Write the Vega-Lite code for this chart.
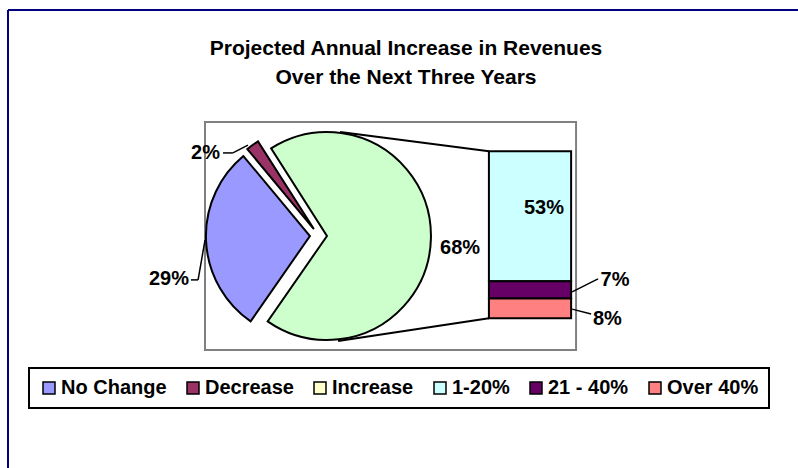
{
  "$schema": "https://vega.github.io/schema/vega-lite/v6.json",
  "width": 790,
  "height": 458,
  "autosize": {"type": "none"},
  "padding": {"left": 8, "top": 10, "right": 0, "bottom": 0},
  "background": "white",
  "title": {
    "text": ["Projected Annual Increase in Revenues", "Over the Next Three Years"],
    "anchor": "middle",
    "frame": "group",
    "orient": "top",
    "offset": -79,
    "baseline": "top",
    "dx": 3,
    "font": "Liberation Sans",
    "fontSize": 21,
    "fontWeight": "bold",
    "lineHeight": 29,
    "color": "black"
  },
  "datasets": {
    "pie": [
      {"category": "Increase", "pct": 68, "order": 1},
      {"category": "No Change", "pct": 29, "order": 2},
      {"category": "Decrease", "pct": 2, "order": 3}
    ],
    "bar": [
      {"category": "1-20%", "pct": 53},
      {"category": "21 - 40%", "pct": 7},
      {"category": "Over 40%", "pct": 8}
    ],
    "one": [{}]
  },
  "layer": [
    {
      "data": {"name": "one"},
      "mark": {"type": "rect", "filled": false, "stroke": "#808080", "strokeWidth": 2},
      "encoding": {
        "x": {"datum": 79.8, "type": "quantitative", "scale": {"domain": [0, 320], "nice": false, "zero": false}, "axis": null},
        "x2": {"datum": 230.1},
        "y": {"datum": 79.9, "type": "quantitative", "scale": {"domain": [-61, 125.5], "nice": false, "zero": false}, "axis": null},
        "y2": {"datum": -12.9}
      }
    },
    {
      "data": {"name": "one"},
      "mark": {"type": "rule", "color": "#000080", "strokeWidth": 2},
      "encoding": {
        "x": {"datum": 0, "type": "quantitative", "scale": {"domain": [0, 320], "nice": false, "zero": false}, "axis": null}
      }
    },
    {
      "data": {"name": "one"},
      "mark": {"type": "rule", "color": "#000080", "strokeWidth": 2},
      "encoding": {
        "y": {"datum": 125.5, "type": "quantitative", "scale": {"domain": [-61, 125.5], "nice": false, "zero": false}, "axis": null}
      }
    },
    {
      "data": {"name": "one"},
      "mark": {"type": "rule", "color": "black", "strokeWidth": 2},
      "encoding": {
        "x": {"datum": 134.5, "type": "quantitative", "scale": {"domain": [0, 320], "nice": false, "zero": false}, "axis": null},
        "x2": {"datum": 194.8},
        "y": {"datum": 75.8, "type": "quantitative", "scale": {"domain": [-61, 125.5], "nice": false, "zero": false}, "axis": null},
        "y2": {"datum": 68}
      }
    },
    {
      "data": {"name": "one"},
      "mark": {"type": "rule", "color": "black", "strokeWidth": 2},
      "encoding": {
        "x": {"datum": 133.7, "type": "quantitative", "scale": {"domain": [0, 320], "nice": false, "zero": false}, "axis": null},
        "x2": {"datum": 194.8},
        "y": {"datum": -9.3, "type": "quantitative", "scale": {"domain": [-61, 125.5], "nice": false, "zero": false}, "axis": null},
        "y2": {"datum": 0}
      }
    },
    {
      "data": {"name": "pie"},
      "transform": [
        {"stack": "pct", "groupby": [], "sort": [{"field": "order"}], "as": ["t0", "t1"]},
        {"filter": "datum.category === 'Increase'"}
      ],
      "mark": {"type": "arc", "outerRadius": 104, "fill": "#CCFFCC", "stroke": "black", "strokeWidth": 2},
      "encoding": {
        "theta": {"field": "t0", "type": "quantitative", "scale": {"domain": [0, 99], "range": [-0.5672, 5.716]}},
        "theta2": {"field": "t1"},
        "x": {"datum": 129.2, "type": "quantitative", "scale": {"domain": [0, 320], "nice": false, "zero": false}, "axis": null},
        "y": {"datum": 33.47, "type": "quantitative", "scale": {"domain": [-61, 125.5], "nice": false, "zero": false}, "axis": null}
      }
    },
    {
      "data": {"name": "pie"},
      "transform": [
        {"stack": "pct", "groupby": [], "sort": [{"field": "order"}], "as": ["t0", "t1"]},
        {"filter": "datum.category === 'No Change'"}
      ],
      "mark": {"type": "arc", "outerRadius": 104, "fill": "#9999FF", "stroke": "black", "strokeWidth": 2},
      "encoding": {
        "theta": {"field": "t0", "type": "quantitative", "scale": {"domain": [0, 99], "range": [-0.5672, 5.716]}},
        "theta2": {"field": "t1"},
        "x": {"datum": 122.3, "type": "quantitative", "scale": {"domain": [0, 320], "nice": false, "zero": false}, "axis": null},
        "y": {"datum": 33.47, "type": "quantitative", "scale": {"domain": [-61, 125.5], "nice": false, "zero": false}, "axis": null}
      }
    },
    {
      "data": {"name": "pie"},
      "transform": [
        {"stack": "pct", "groupby": [], "sort": [{"field": "order"}], "as": ["t0", "t1"]},
        {"filter": "datum.category === 'Decrease'"}
      ],
      "mark": {"type": "arc", "outerRadius": 104, "fill": "#993366", "stroke": "black", "strokeWidth": 2},
      "encoding": {
        "theta": {"field": "t0", "type": "quantitative", "scale": {"domain": [0, 99], "range": [-0.5672, 5.716]}},
        "theta2": {"field": "t1"},
        "x": {"datum": 123.9, "type": "quantitative", "scale": {"domain": [0, 320], "nice": false, "zero": false}, "axis": null},
        "y": {"datum": 36.3, "type": "quantitative", "scale": {"domain": [-61, 125.5], "nice": false, "zero": false}, "axis": null}
      }
    },
    {
      "data": {"name": "bar"},
      "transform": [
        {"stack": "pct", "groupby": [], "sort": [{"field": "category", "order": "descending"}], "as": ["b0", "b1"]}
      ],
      "mark": {"type": "bar", "stroke": "black", "strokeWidth": 2},
      "encoding": {
        "x": {"datum": 194.8, "type": "quantitative", "scale": {"domain": [0, 320], "nice": false, "zero": false}, "axis": null},
        "x2": {"datum": 228.1},
        "y": {"field": "b0", "type": "quantitative", "scale": {"domain": [-61, 125.5], "nice": false, "zero": false}, "axis": null},
        "y2": {"field": "b1"},
        "color": {
          "field": "category",
          "type": "nominal",
          "scale": {
            "domain": ["No Change", "Decrease", "Increase", "1-20%", "21 - 40%", "Over 40%"],
            "range": ["#9999FF", "#993366", "#FFFFCC", "#CCFFFF", "#660066", "#FF8080"]
          },
          "legend": {
            "title": null,
            "orient": "none",
            "legendX": 21,
            "legendY": 358,
            "direction": "horizontal",
            "symbolType": "square",
            "symbolSize": 144,
            "symbolStrokeColor": "black",
            "symbolStrokeWidth": 1.5,
            "symbolOpacity": 1,
            "labelFont": "Liberation Sans",
            "labelFontSize": 20,
            "labelFontWeight": "bold",
            "labelColor": "black",
            "labelOffset": 2,
            "labelLimit": 0,
            "columnPadding": 16,
            "padding": 10,
            "strokeColor": "black"
          }
        }
      }
    },
    {
      "data": {"name": "pie"},
      "transform": [{"filter": "datum.category === 'Increase'"}, {"calculate": "datum.pct + '%'", "as": "label"}],
      "mark": {"type": "text", "font": "Liberation Sans", "fontSize": 20, "fontWeight": "bold", "color": "black", "align": "center", "baseline": "middle"},
      "encoding": {
        "text": {"field": "label"},
        "x": {"datum": 183.1, "type": "quantitative", "scale": {"domain": [0, 320], "nice": false, "zero": false}, "axis": null},
        "y": {"datum": 28.6, "type": "quantitative", "scale": {"domain": [-61, 125.5], "nice": false, "zero": false}, "axis": null}
      }
    },
    {
      "data": {"name": "pie"},
      "transform": [{"filter": "datum.category === 'No Change'"}, {"calculate": "datum.pct + '%'", "as": "label"}],
      "mark": {"type": "text", "font": "Liberation Sans", "fontSize": 20, "fontWeight": "bold", "color": "black", "align": "center", "baseline": "middle"},
      "encoding": {
        "text": {"field": "label"},
        "x": {"datum": 65.2, "type": "quantitative", "scale": {"domain": [0, 320], "nice": false, "zero": false}, "axis": null},
        "y": {"datum": 16.0, "type": "quantitative", "scale": {"domain": [-61, 125.5], "nice": false, "zero": false}, "axis": null}
      }
    },
    {
      "data": {"name": "pie"},
      "transform": [{"filter": "datum.category === 'Decrease'"}, {"calculate": "datum.pct + '%'", "as": "label"}],
      "mark": {"type": "text", "font": "Liberation Sans", "fontSize": 20, "fontWeight": "bold", "color": "black", "align": "center", "baseline": "middle"},
      "encoding": {
        "text": {"field": "label"},
        "x": {"datum": 80.0, "type": "quantitative", "scale": {"domain": [0, 320], "nice": false, "zero": false}, "axis": null},
        "y": {"datum": 67.3, "type": "quantitative", "scale": {"domain": [-61, 125.5], "nice": false, "zero": false}, "axis": null}
      }
    },
    {
      "data": {"name": "bar"},
      "transform": [{"filter": "datum.category === '1-20%'"}, {"calculate": "datum.pct + '%'", "as": "label"}],
      "mark": {"type": "text", "font": "Liberation Sans", "fontSize": 20, "fontWeight": "bold", "color": "black", "align": "center", "baseline": "middle"},
      "encoding": {
        "text": {"field": "label"},
        "x": {"datum": 217.1, "type": "quantitative", "scale": {"domain": [0, 320], "nice": false, "zero": false}, "axis": null},
        "y": {"datum": 44.9, "type": "quantitative", "scale": {"domain": [-61, 125.5], "nice": false, "zero": false}, "axis": null}
      }
    },
    {
      "data": {"name": "bar"},
      "transform": [{"filter": "datum.category === '21 - 40%'"}, {"calculate": "datum.pct + '%'", "as": "label"}],
      "mark": {"type": "text", "font": "Liberation Sans", "fontSize": 20, "fontWeight": "bold", "color": "black", "align": "center", "baseline": "middle"},
      "encoding": {
        "text": {"field": "label"},
        "x": {"datum": 245.9, "type": "quantitative", "scale": {"domain": [0, 320], "nice": false, "zero": false}, "axis": null},
        "y": {"datum": 15.4, "type": "quantitative", "scale": {"domain": [-61, 125.5], "nice": false, "zero": false}, "axis": null}
      }
    },
    {
      "data": {"name": "bar"},
      "transform": [{"filter": "datum.category === 'Over 40%'"}, {"calculate": "datum.pct + '%'", "as": "label"}],
      "mark": {"type": "text", "font": "Liberation Sans", "fontSize": 20, "fontWeight": "bold", "color": "black", "align": "center", "baseline": "middle"},
      "encoding": {
        "text": {"field": "label"},
        "x": {"datum": 242.8, "type": "quantitative", "scale": {"domain": [0, 320], "nice": false, "zero": false}, "axis": null},
        "y": {"datum": -0.3, "type": "quantitative", "scale": {"domain": [-61, 125.5], "nice": false, "zero": false}, "axis": null}
      }
    },
    {
      "data": {"name": "one"},
      "mark": {"type": "rule", "color": "black", "strokeWidth": 1.5},
      "encoding": {
        "x": {"datum": 87.1, "type": "quantitative", "scale": {"domain": [0, 320], "nice": false, "zero": false}, "axis": null},
        "x2": {"datum": 91.1},
        "y": {"datum": 67.3, "type": "quantitative", "scale": {"domain": [-61, 125.5], "nice": false, "zero": false}, "axis": null},
        "y2": {"datum": 67.3}
      }
    },
    {
      "data": {"name": "one"},
      "mark": {"type": "rule", "color": "black", "strokeWidth": 1.5},
      "encoding": {
        "x": {"datum": 91.1, "type": "quantitative", "scale": {"domain": [0, 320], "nice": false, "zero": false}, "axis": null},
        "x2": {"datum": 97.2},
        "y": {"datum": 67.3, "type": "quantitative", "scale": {"domain": [-61, 125.5], "nice": false, "zero": false}, "axis": null},
        "y2": {"datum": 70.5}
      }
    },
    {
      "data": {"name": "one"},
      "mark": {"type": "rule", "color": "black", "strokeWidth": 1.5},
      "encoding": {
        "x": {"datum": 74.1, "type": "quantitative", "scale": {"domain": [0, 320], "nice": false, "zero": false}, "axis": null},
        "x2": {"datum": 77.0},
        "y": {"datum": 15.6, "type": "quantitative", "scale": {"domain": [-61, 125.5], "nice": false, "zero": false}, "axis": null},
        "y2": {"datum": 15.6}
      }
    },
    {
      "data": {"name": "one"},
      "mark": {"type": "rule", "color": "black", "strokeWidth": 1.5},
      "encoding": {
        "x": {"datum": 77.0, "type": "quantitative", "scale": {"domain": [0, 320], "nice": false, "zero": false}, "axis": null},
        "x2": {"datum": 79.8},
        "y": {"datum": 15.6, "type": "quantitative", "scale": {"domain": [-61, 125.5], "nice": false, "zero": false}, "axis": null},
        "y2": {"datum": 31.8}
      }
    },
    {
      "data": {"name": "one"},
      "mark": {"type": "rule", "color": "black", "strokeWidth": 1.5},
      "encoding": {
        "x": {"datum": 228.5, "type": "quantitative", "scale": {"domain": [0, 320], "nice": false, "zero": false}, "axis": null},
        "x2": {"datum": 239.0},
        "y": {"datum": 10.7, "type": "quantitative", "scale": {"domain": [-61, 125.5], "nice": false, "zero": false}, "axis": null},
        "y2": {"datum": 16.0}
      }
    },
    {
      "data": {"name": "one"},
      "mark": {"type": "rule", "color": "black", "strokeWidth": 1.5},
      "encoding": {
        "x": {"datum": 228.5, "type": "quantitative", "scale": {"domain": [0, 320], "nice": false, "zero": false}, "axis": null},
        "x2": {"datum": 236.2},
        "y": {"datum": 3.7, "type": "quantitative", "scale": {"domain": [-61, 125.5], "nice": false, "zero": false}, "axis": null},
        "y2": {"datum": 1.7}
      }
    }
  ],
  "config": {
    "font": "Liberation Sans",
    "view": {"stroke": null},
    "legend": {"strokeWidth": 2}
  }
}
